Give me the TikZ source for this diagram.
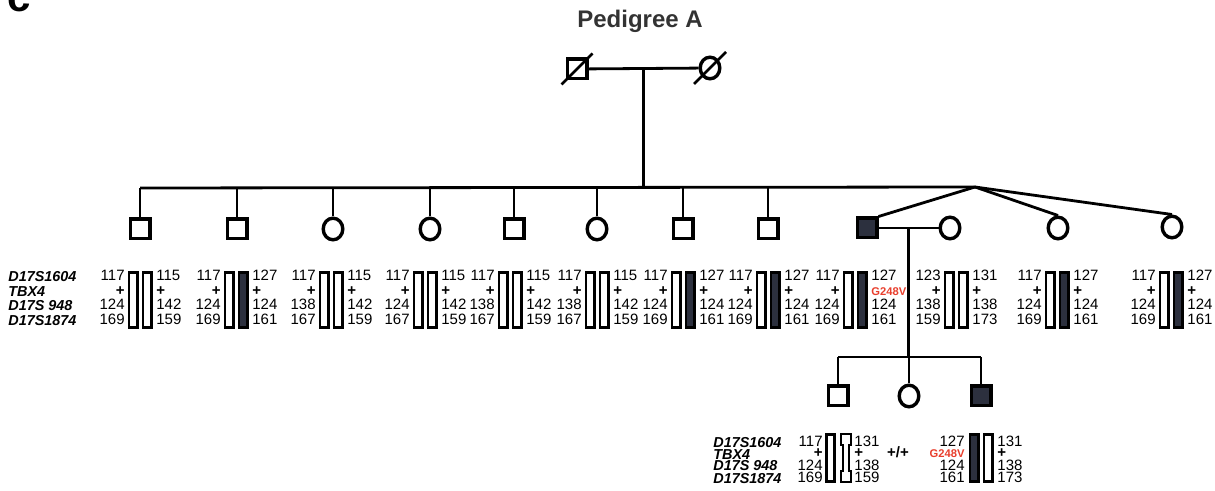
\documentclass[tikz,border=0pt]{standalone}
\usepackage{fontspec}
\setmainfont{Liberation Sans}
\usepackage{tikz}
\usetikzlibrary{shapes,calc}
\definecolor{affect}{RGB}{44,48,62}
\definecolor{mutred}{RGB}{232,62,44}
\newcommand{\mutation}{\textcolor{mutred}{\fontsize{5.6}{6}\selectfont\bfseries G248V}}

\begin{document}
\begin{tikzpicture}[x=0.5pt, y=-0.5pt,
	male/.style={draw, rectangle, line width=1.7pt, minimum size=9.8pt, inner sep=0pt},
	female/.style={draw, ellipse, line width=1.7pt, minimum width=9.8pt, minimum height=10.8pt, inner sep=0pt},
	affected/.style={fill=affect},
	bar/.style={draw, rectangle, line width=1.4pt, minimum width=4.1pt, minimum height=27.6pt, inner sep=0pt},
	hnum/.style={inner sep=0pt, font=\fontsize{7.5}{8}\selectfont},
	locus/.style={inner sep=0pt, anchor=base west, font=\fontsize{7.2}{8}\selectfont\bfseries\itshape},
	line/.style={line width=1.4pt}]
	\useasboundingbox (0,0) rectangle (1215,491);
	\node [anchor=base west, inner sep=0pt, font=\fontsize{21}{23}\selectfont\bfseries] (panel) at (7,12) {c};
	\node [anchor=base, inner sep=0pt, text=black!80, font=\fontsize{12}{14}\selectfont\bfseries] (title) at (640,28) {Pedigree A};
	% generation I
	\node [male] (gf) at (577,69) {};
	\node [female] (gm) at (710,68) {};
	\draw [line] (gf) -- (gm);
	\draw [line] ([shift={(-4,4)}]gf.south west) -- ([shift={(4,-4)}]gf.north east);
	\draw [line] ([shift={(-16,16)}]gm.center) -- ([shift={(16,-16)}]gm.center);
	\coordinate (mate1) at ($(gf.east)!0.5!(gm.west)$);
	% generation II
	\foreach \x/\n/\sex in {140/1/male, 237/2/male, 333/3/female, 430/4/female, 514/5/male, 597/6/female, 683/7/male, 768/8/male}
		\node [\sex] (s\n) at (\x,229) {};
	\node [male, affected] (s9) at (867,228) {};
	\node [female] (sp) at (950,228) {};
	\node [female] (s11) at (1058,228) {};
	\node [female] (s12) at (1172,227) {};
	\coordinate (sib2) at (140,188);
	\coordinate (twin) at (975,187);
	\draw [line] (sib2) -- (twin);
	\draw [line] (mate1) -- (mate1 |- twin);
	\foreach \n in {1,...,8}
		\draw [line] (s\n.north) -- (s\n.north |- sib2);
	\draw [line] (twin) -- (s9.north east);
	\draw [line] (twin) -- (s11.north);
	\draw [line] (twin) -- (s12.north);
	\draw [line] (s9) -- (sp);
	\coordinate (mate2) at ($(s9.east)!0.5!(sp.west)$);
	% generation III
	\node [male] (c1) at (838,396) {};
	\node [female] (c2) at (909,396) {};
	\node [male, affected] (c3) at (981,396) {};
	\coordinate (sib3) at (909,357);
	\draw [line] (mate2) -- (mate2 |- sib3);
	\draw [line] (c1.north |- sib3) -- (c3.north |- sib3);
	\foreach \n in {1,2,3}
		\draw [line] (c\n.north) -- (c\n.north |- sib3);
	% haplotypes, generation II
	\node [locus] (loc1) at (8,282) {D17S1604};
	\node [locus] (loc2) at (8,296.5) {TBX4};
	\node [locus] (loc3) at (8,311) {D17S 948};
	\node [locus] (loc4) at (8,325.5) {D17S1874};
	\foreach \x/\n/\pa/\pc/\pd/\qa/\qb/\qc/\qd/\hc in {
		140/1/117/124/169/115/+/142/159/white,
		236/2/117/124/169/127/+/124/161/affect,
		331/3/117/138/167/115/+/142/159/white,
		425/4/117/124/167/115/+/142/159/white,
		510/5/117/138/167/115/+/142/159/white,
		597/6/117/138/167/115/+/142/159/white,
		683/7/117/124/169/127/+/124/161/affect,
		768/8/117/124/169/127/+/124/161/affect,
		855/9/117/124/169/127/\mutation/124/161/affect,
		956/10/123/138/159/131/+/138/173/white,
		1057/11/117/124/169/127/+/124/161/affect,
		1171/12/117/124/169/127/+/124/161/affect}
	{
		\node [bar] (hl\n) at (\x-7,300) {};
		\node [bar, fill=\hc] (hr\n) at (\x+7,300) {};
		\node [hnum, anchor=base east] (pa\n) at (\x-15,281) {\pa};
		\node [hnum, anchor=base east] (pb\n) at (\x-15,295.5) {\bfseries +};
		\node [hnum, anchor=base east] (pc\n) at (\x-15,310) {\pc};
		\node [hnum, anchor=base east] (pd\n) at (\x-15,324.5) {\pd};
		\node [hnum, anchor=base west] (qa\n) at (\x+16,281) {\qa};
		\node [hnum, anchor=base west] (qb\n) at (\x+16,295.5) {\bfseries\qb};
		\node [hnum, anchor=base west] (qc\n) at (\x+16,310) {\qc};
		\node [hnum, anchor=base west] (qd\n) at (\x+16,324.5) {\qd};
	}
	% haplotypes, generation III
	\node [locus] (loc5) at (713,447) {D17S1604};
	\node [locus] (loc6) at (713,459) {TBX4};
	\node [locus] (loc7) at (713,471) {D17S 948};
	\node [locus] (loc8) at (713,483) {D17S1874};
	\node [bar, minimum height=23.6pt] (hl13) at (830.5,458) {};
	\draw [line width=1.4pt] (841,434) -- (851,434) -- (851,445) -- (849,445) -- (849,471) -- (851,471) -- (851,482)
		-- (841,482) -- (841,471) -- (843,471) -- (843,445) -- (841,445) -- cycle;
	\node [hnum, anchor=base east] (pa13) at (823,446) {117};
	\node [hnum, anchor=base east] (pb13) at (823,458) {\bfseries +};
	\node [hnum, anchor=base east] (pc13) at (823,470) {124};
	\node [hnum, anchor=base east] (pd13) at (823,482) {169};
	\node [hnum, anchor=base west] (qa13) at (854,446) {131};
	\node [hnum, anchor=base west] (qb13) at (854,458) {\bfseries +};
	\node [hnum, anchor=base west] (qc13) at (854,470) {138};
	\node [hnum, anchor=base west] (qd13) at (854,482) {159};
	\node [hnum, anchor=base] (geno14) at (898,458) {\bfseries +/+};
	\node [bar, minimum height=23.6pt, fill=affect] (hl15) at (974,458) {};
	\node [bar, minimum height=23.6pt] (hr15) at (988,458) {};
	\node [hnum, anchor=base east] (pa15) at (965,446) {127};
	\node [hnum, anchor=base east] (pb15) at (965,458) {\mutation};
	\node [hnum, anchor=base east] (pc15) at (965,470) {124};
	\node [hnum, anchor=base east] (pd15) at (965,482) {161};
	\node [hnum, anchor=base west] (qa15) at (997,446) {131};
	\node [hnum, anchor=base west] (qb15) at (997,458) {\bfseries +};
	\node [hnum, anchor=base west] (qc15) at (997,470) {138};
	\node [hnum, anchor=base west] (qd15) at (997,482) {173};
\end{tikzpicture}
\end{document}
